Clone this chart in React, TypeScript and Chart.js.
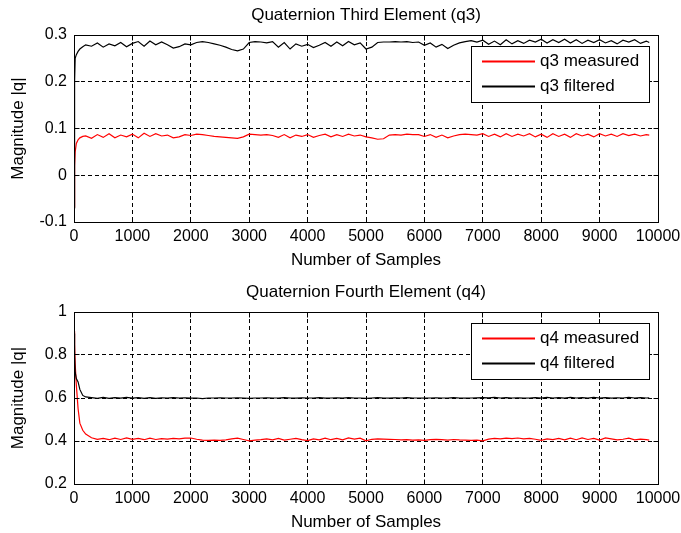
import React, { useEffect, useRef } from "react";
import { Chart, registerables } from "chart.js";

Chart.register(...registerables);

const FONT = "'Liberation Sans', Arial, Helvetica, sans-serif";

// Sample index (x axis)
const samples = [
  0, 10, 20, 40, 70, 100, 150,
  200, 300, 400, 500, 600, 700, 800, 900, 1000, 1100,
  1200, 1300, 1400, 1500, 1600, 1700, 1800, 1900, 2000, 2100,
  2200, 2300, 2400, 2500, 2600, 2700, 2800, 2900, 3000, 3100,
  3200, 3300, 3400, 3500, 3600, 3700, 3800, 3900, 4000, 4100,
  4200, 4300, 4400, 4500, 4600, 4700, 4800, 4900, 5000, 5100,
  5200, 5300, 5400, 5500, 5600, 5700, 5800, 5900, 6000, 6100,
  6200, 6300, 6400, 6500, 6600, 6700, 6800, 6900, 7000, 7100,
  7200, 7300, 7400, 7500, 7600, 7700, 7800, 7900, 8000, 8100,
  8200, 8300, 8400, 8500, 8600, 8700, 8800, 8900, 9000, 9100,
  9200, 9300, 9400, 9500, 9600, 9700, 9800,
  9850,
];

const q3Filtered = [
  -0.07, 0.2, 0.25, 0.258, 0.265, 0.27, 0.275,
  0.279, 0.276, 0.283, 0.274, 0.281, 0.277, 0.284, 0.275, 0.282, 0.286,
  0.276, 0.287, 0.279, 0.285, 0.279, 0.272, 0.275, 0.281, 0.279, 0.284,
  0.286, 0.284, 0.281, 0.278, 0.274, 0.269, 0.266, 0.27, 0.284, 0.286,
  0.285, 0.283, 0.286, 0.274, 0.284, 0.27, 0.281, 0.276, 0.28, 0.273,
  0.278, 0.284, 0.276, 0.285, 0.277, 0.286, 0.279, 0.283, 0.27, 0.274,
  0.284, 0.285, 0.285, 0.286, 0.285, 0.286, 0.284, 0.285, 0.278, 0.283,
  0.274, 0.28, 0.271, 0.278, 0.283, 0.286, 0.288, 0.285, 0.289, 0.28,
  0.287, 0.279, 0.29, 0.281, 0.288, 0.282, 0.289, 0.285, 0.291, 0.283,
  0.29, 0.284, 0.291, 0.283, 0.29, 0.282, 0.289, 0.284, 0.29, 0.283,
  0.288, 0.281, 0.289, 0.285, 0.29, 0.282, 0.287,
  0.284,
];

const q3Measured = [
  -0.068, 0.02, 0.05, 0.068, 0.076, 0.08, 0.083,
  0.084, 0.079, 0.087, 0.081, 0.089, 0.08, 0.086, 0.082, 0.088, 0.08,
  0.09, 0.083, 0.089, 0.084, 0.086, 0.08, 0.082, 0.087, 0.085, 0.088,
  0.087, 0.085, 0.083, 0.082, 0.081, 0.08, 0.079, 0.082, 0.088, 0.087,
  0.086, 0.087, 0.085, 0.081, 0.087, 0.08, 0.086, 0.083, 0.087, 0.081,
  0.085, 0.088, 0.082, 0.087, 0.083, 0.088, 0.084, 0.086, 0.082, 0.08,
  0.077, 0.078, 0.086, 0.087, 0.086, 0.088, 0.087, 0.087, 0.083, 0.087,
  0.081, 0.086, 0.08, 0.084, 0.087, 0.088, 0.087, 0.086, 0.089, 0.083,
  0.088, 0.082, 0.089, 0.083, 0.088, 0.084, 0.089, 0.082, 0.088, 0.081,
  0.089, 0.083, 0.088, 0.081, 0.089, 0.084, 0.088, 0.082, 0.089, 0.084,
  0.088, 0.083, 0.089, 0.085, 0.088, 0.084, 0.087,
  0.086,
];

const q4Filtered = [
  0.9, 0.8, 0.72, 0.69, 0.675, 0.64, 0.612,
  0.605, 0.602, 0.598, 0.603, 0.598, 0.602, 0.599, 0.603, 0.599, 0.602,
  0.598, 0.602, 0.598, 0.601, 0.6, 0.602, 0.6, 0.601, 0.599, 0.6,
  0.597, 0.6, 0.6, 0.601, 0.6, 0.6, 0.601, 0.6, 0.598, 0.6,
  0.6, 0.601, 0.6, 0.6, 0.602, 0.6, 0.599, 0.601, 0.6, 0.6,
  0.602, 0.599, 0.6, 0.601, 0.599, 0.602, 0.6, 0.6, 0.598, 0.6,
  0.602, 0.6, 0.599, 0.601, 0.6, 0.602, 0.6, 0.6, 0.599, 0.6,
  0.601, 0.6, 0.6, 0.602, 0.6, 0.599, 0.6, 0.601, 0.602, 0.601,
  0.603, 0.6, 0.602, 0.6, 0.601, 0.599, 0.6, 0.602, 0.599, 0.603,
  0.6, 0.602, 0.599, 0.603, 0.6, 0.602, 0.599, 0.603, 0.6, 0.602,
  0.599, 0.601, 0.6, 0.603, 0.6, 0.602, 0.6,
  0.601,
];

const q4Measured = [
  0.91, 0.85, 0.76, 0.66, 0.55, 0.483, 0.45,
  0.432, 0.415, 0.408, 0.412, 0.406, 0.413, 0.407, 0.414, 0.408, 0.412,
  0.406, 0.413, 0.407, 0.411, 0.409, 0.412, 0.41, 0.413, 0.414, 0.408,
  0.404, 0.403, 0.404, 0.403, 0.405, 0.41, 0.413, 0.407, 0.401, 0.404,
  0.406, 0.41, 0.405, 0.412, 0.404, 0.408, 0.412, 0.406, 0.402, 0.41,
  0.405, 0.413, 0.406, 0.412, 0.405, 0.414, 0.409, 0.413, 0.401, 0.408,
  0.41, 0.409, 0.408, 0.407, 0.405, 0.406, 0.404, 0.405, 0.403, 0.406,
  0.408, 0.406, 0.404, 0.407, 0.405, 0.404, 0.403, 0.404, 0.401, 0.409,
  0.412, 0.41, 0.413, 0.411, 0.414, 0.41, 0.412, 0.408, 0.403, 0.41,
  0.406, 0.412, 0.405, 0.413, 0.406, 0.414, 0.407, 0.412, 0.404, 0.414,
  0.41, 0.405, 0.408, 0.413, 0.405, 0.409, 0.406,
  0.404,
];

const xTicks = [0, 1000, 2000, 3000, 4000, 5000, 6000, 7000, 8000, 9000, 10000];
const xTickLabels = ["0", "1000", "2000", "3000", "4000", "5000", "6000", "7000", "8000", "9000", "10000"];
const q3YTicks = [-0.1, 0, 0.1, 0.2, 0.3];
const q3YTickLabels = ["-0.1", "0", "0.1", "0.2", "0.3"];
const q4YTicks = [0.2, 0.4, 0.6, 0.8, 1];
const q4YTickLabels = ["0.2", "0.4", "0.6", "0.8", "1"];

const MEASURED_COLOR = "rgb(255, 0, 0)";
const FILTERED_COLOR = "rgb(0, 0, 0)";

interface PanelSpec {
  title: string;
  measuredLabel: string;
  filteredLabel: string;
  measured: number[];
  filtered: number[];
  yTicks: number[];
  yTickLabels: string[];
  height: number;
  padTop: number;
  xAxisHeight: number;
}

function zip(xs: number[], ys: number[]) {
  return xs.map((x, i) => ({ x, y: ys[i] }));
}

function makeChart(canvas: HTMLCanvasElement, spec: PanelSpec) {
  const decor = {
    id: "matlabDecor",
    afterDraw(chart: any) {
      const ctx = chart.ctx as CanvasRenderingContext2D;
      const a = chart.chartArea;
      const xs = chart.scales.x;
      const ys = chart.scales.y;
      const al = (p: number) => Math.round(p - 0.5) + 0.5;
      const L = al(a.left), R = al(a.right), T = al(a.top), B = al(a.bottom);
      ctx.save();
      ctx.strokeStyle = "#000";
      ctx.lineWidth = 1;
      ctx.setLineDash([]);
      ctx.beginPath();
      for (const v of xTicks) {
        const p = al(xs.getPixelForValue(v));
        ctx.moveTo(p, B); ctx.lineTo(p, B - 5);
        ctx.moveTo(p, T); ctx.lineTo(p, T + 5);
      }
      for (const v of spec.yTicks) {
        const p = al(ys.getPixelForValue(v));
        ctx.moveTo(L, p); ctx.lineTo(L + 5, p);
        ctx.moveTo(R, p); ctx.lineTo(R - 5, p);
      }
      ctx.stroke();
      ctx.strokeRect(L, T, R - L, B - T);

      // texts
      ctx.fillStyle = "#000";
      ctx.font = `17px ${FONT}`;
      ctx.textAlign = "center";
      ctx.textBaseline = "middle";
      const cx = (a.left + a.right) / 2;
      ctx.fillText(spec.title, cx, a.top - 20);
      ctx.fillText("Number of Samples", cx, a.bottom + 38);
      ctx.save();
      ctx.translate(18.5, (a.top + a.bottom) / 2);
      ctx.rotate(-Math.PI / 2);
      ctx.fillText("Magnitude |q|", 0, 0);
      ctx.restore();

      // legend
      const top = Math.round(a.top);
      const bx = 471.5, by = top + 11.5, bw = 178, bh = 56;
      ctx.fillStyle = "#fff";
      ctx.fillRect(bx, by, bw, bh);
      ctx.strokeStyle = "#000";
      ctx.lineWidth = 1;
      ctx.strokeRect(bx, by, bw, bh);
      const rows = [
        { label: spec.measuredLabel, color: MEASURED_COLOR, y: top + 26 },
        { label: spec.filteredLabel, color: FILTERED_COLOR, y: top + 51 },
      ];
      ctx.textAlign = "left";
      for (const r of rows) {
        ctx.fillStyle = r.color;
        ctx.fillRect(482, r.y - 0.5, 53, 2);
        ctx.fillStyle = "#000";
        ctx.fillText(r.label, 540, r.y + 0.5);
      }
      ctx.restore();
    },
  };

  const tickFont = { family: FONT, size: 16 };
  return new Chart(canvas, {
    type: "line",
    data: {
      datasets: [
        {
          label: spec.filteredLabel,
          data: zip(samples, spec.filtered),
          borderColor: FILTERED_COLOR,
          borderWidth: 1.2,
          pointRadius: 0,
          tension: 0,
          fill: false,
        },
        {
          label: spec.measuredLabel,
          data: zip(samples, spec.measured),
          borderColor: MEASURED_COLOR,
          borderWidth: 1.2,
          pointRadius: 0,
          tension: 0,
          fill: false,
        },
      ],
    },
    options: {
      responsive: false,
      animation: false,
      devicePixelRatio: 1,
      events: [],
      layout: { padding: { top: spec.padTop, right: 23, left: 0, bottom: 0 } },
      plugins: {
        legend: { display: false },
        title: { display: false },
        tooltip: { enabled: false },
      },
      scales: {
        x: {
          type: "linear",
          min: 0,
          max: 10000,
          afterBuildTicks: (s: any) => {
            s.ticks = xTicks.map((v) => ({ value: v }));
          },
          ticks: {
            autoSkip: false,
            maxRotation: 0,
            minRotation: 0,
            padding: 5,
            color: "#000",
            font: tickFont,
            callback: (_v: any, i: number) => xTickLabels[i],
          },
          grid: { color: "#000", lineWidth: 1, drawTicks: false },
          border: { display: false, dash: [4, 3] },
          afterFit: (s: any) => {
            s.height = spec.xAxisHeight;
            s.paddingLeft = 0;
            s.paddingRight = 0;
          },
        },
        y: {
          type: "linear",
          min: spec.yTicks[0],
          max: spec.yTicks[spec.yTicks.length - 1],
          afterBuildTicks: (s: any) => {
            s.ticks = spec.yTicks.map((v) => ({ value: v }));
          },
          ticks: {
            padding: 7,
            color: "#000",
            font: tickFont,
            callback: (_v: any, i: number) => spec.yTickLabels[i],
          },
          grid: { color: "#000", lineWidth: 1, drawTicks: false },
          border: { display: false, dash: [4, 3] },
          afterFit: (s: any) => {
            s.width = 74;
            s.paddingTop = 0;
            s.paddingBottom = 0;
          },
        },
      },
    } as any,
    plugins: [decor],
  });
}

const topSpec: PanelSpec = {
  title: "Quaternion Third Element (q3)",
  measuredLabel: "q3 measured",
  filteredLabel: "q3 filtered",
  measured: q3Measured,
  filtered: q3Filtered,
  yTicks: q3YTicks,
  yTickLabels: q3YTickLabels,
  height: 275,
  padTop: 35,
  xAxisHeight: 53,
};

const bottomSpec: PanelSpec = {
  title: "Quaternion Fourth Element (q4)",
  measuredLabel: "q4 measured",
  filteredLabel: "q4 filtered",
  measured: q4Measured,
  filtered: q4Filtered,
  yTicks: q4YTicks,
  yTickLabels: q4YTickLabels,
  height: 258,
  padTop: 37,
  xAxisHeight: 49,
};

export default function App() {
  const ref1 = useRef<HTMLCanvasElement | null>(null);
  const ref2 = useRef<HTMLCanvasElement | null>(null);

  useEffect(() => {
    const c1 = makeChart(ref1.current!, topSpec);
    const c2 = makeChart(ref2.current!, bottomSpec);
    return () => {
      c1.destroy();
      c2.destroy();
    };
  }, []);

  return (
    <div style={{ position: "fixed", left: 0, top: 0, width: 681, height: 533, background: "#fff" }}>
      <canvas
        ref={ref1}
        width={681}
        height={275}
        style={{ position: "absolute", left: 0, top: 0, width: 681, height: 275, display: "block" }}
      />
      <canvas
        ref={ref2}
        width={681}
        height={258}
        style={{ position: "absolute", left: 0, top: 275, width: 681, height: 258, display: "block" }}
      />
    </div>
  );
}
